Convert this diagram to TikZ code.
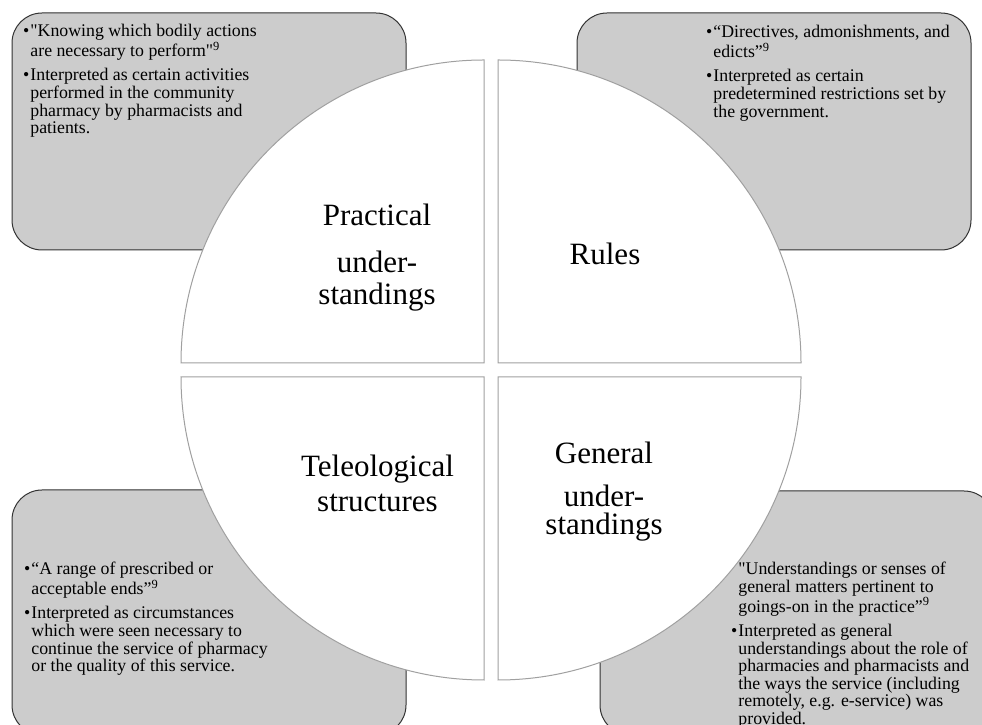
\documentclass[tikz,border=0pt]{standalone}
\usepackage{fontspec}
\setmainfont{Liberation Serif}[Ligatures=TeXOff]
\definecolor{boxgray}{RGB}{204,204,204}
\definecolor{edgegray}{RGB}{50,50,50}
\definecolor{piecegray}{RGB}{160,160,160}
\newcommand{\infotext}[1]{{\fontsize{17.8}{17.3}\selectfont\begin{tabular}[t]{@{}l@{\hspace{1pt}}l@{}}#1\end{tabular}}}
\begin{document}
\begin{tikzpicture}[x=1pt,y=1pt,
  infobox/.style={draw=edgegray, fill=boxgray, line width=1pt, rounded corners=30pt},
  piece/.style={draw=piecegray, fill=white, line width=1pt},
  biglabel/.style={anchor=base, inner sep=0pt, font=\fontsize{31}{33}\selectfont},
  infonode/.style={anchor=base west, inner sep=0pt}]
\useasboundingbox (0,0) rectangle (982,725);
\clip (0,0) rectangle (982,725);
% grey boxes behind the circle
\draw[infobox] (12,475) rectangle (406,712);
\draw[infobox] (577,475) rectangle (971,712);
\draw[infobox] (12,-10) rectangle (406,235);
\draw[infobox] (600,-10) rectangle (994,234);
\node[infonode] (tltext) at (23,688) {\infotext{%
\textbullet & "Knowing which bodily actions\\
 & are necessary to perform"\textsuperscript{9}\\[6.7pt]
\textbullet & Interpreted as certain activities\\
 & performed in the community\\
 & pharmacy by pharmacists and\\
 & patients.}};
\node[infonode] (trtext) at (706,687) {\infotext{%
\textbullet & “Directives, admonishments, and\\
 & edicts”\textsuperscript{9}\\[6.7pt]
\textbullet & Interpreted as certain\\
 & predetermined restrictions set by\\
 & the government.}};
\node[infonode] (bltext) at (24,150) {\infotext{%
\textbullet & “A range of prescribed or\\
 & acceptable ends”\textsuperscript{9}\\[6.7pt]
\textbullet & Interpreted as circumstances\\
 & which were seen necessary to\\
 & continue the service of pharmacy\\
 & or the quality of this service.}};
\node[infonode] (brtext) at (731,150) {\infotext{%
 & "Understandings or senses of\\
 & general matters pertinent to\\
 & goings-on in the practice”\textsuperscript{9}\\[6.7pt]
\textbullet & Interpreted as general\\
 & understandings about the role of\\
 & pharmacies and pharmacists and\\
 & the ways the service (including\\
 & remotely, e.g. e-service) was\\
 & provided.}};
% four quarters of the circle
\draw[piece] (484,362) -- ++(0,303) arc[start angle=90, end angle=180, radius=303] -- cycle;
\draw[piece] (498,362) -- ++(303,0) arc[start angle=0, end angle=90, radius=303] -- cycle;
\draw[piece] (484,348) -- ++(-303,0) arc[start angle=180, end angle=270, radius=303] -- cycle;
\draw[piece] (498,348) -- ++(0,-303) arc[start angle=270, end angle=360, radius=303] -- cycle;
% quarter labels
\node[biglabel] (prac1) at (377,499) {Practical};
\node[biglabel] (prac2) at (377,452) {under-};
\node[biglabel] (prac3) at (377,420) {standings};
\node[biglabel] (rules) at (605,460) {Rules};
\node[biglabel] (tele1) at (377.5,248) {Teleological};
\node[biglabel] (tele2) at (377.5,213) {structures};
\node[biglabel] (gen1) at (604,261) {General};
\node[biglabel] (gen2) at (604,218) {under-};
\node[biglabel] (gen3) at (604,190) {standings};
\end{tikzpicture}
\end{document}
